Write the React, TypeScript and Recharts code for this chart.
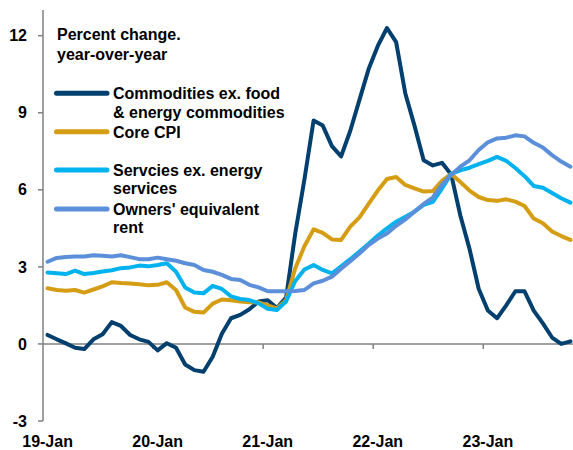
import React from 'react';
import { LineChart, Line, XAxis, YAxis, ReferenceLine, Legend } from 'recharts';

const FONT = '"Liberation Sans", Arial, Helvetica, sans-serif';

// Monthly observations, Jan 2019 – Oct 2023
const months: string[] = [];
for (let y = 2019; y <= 2023; y++) {
  for (let m = 1; m <= 12; m++) {
    if (y === 2023 && m > 10) break;
    months.push(`${y}-${String(m).padStart(2, '0')}`);
  }
}

const commodities = [
  0.35, 0.18, 0.02, -0.15, -0.2, 0.18, 0.38, 0.85, 0.7, 0.35, 0.18, 0.08,
  -0.25, 0.03, -0.15, -0.8, -1.02, -1.08, -0.5, 0.4, 1.0, 1.13, 1.35, 1.65,
  1.7, 1.4, 1.8, 4.3, 6.4, 8.7, 8.5, 7.7, 7.3, 8.3, 9.5, 10.7,
  11.6, 12.3, 11.75, 9.75, 8.5, 7.15, 6.95, 7.05, 6.6, 5.0, 3.7, 2.15,
  1.3, 1.0, 1.5, 2.05, 2.05, 1.3, 0.8, 0.25, 0.0, 0.1,
];

const coreCpi = [
  2.17, 2.1, 2.07, 2.1, 2.0, 2.12, 2.24, 2.4, 2.37, 2.35, 2.32, 2.28,
  2.3, 2.4, 2.1, 1.42, 1.25, 1.22, 1.57, 1.73, 1.7, 1.65, 1.62, 1.62,
  1.5, 1.38, 1.7, 2.95, 3.8, 4.46, 4.32, 4.07, 4.05, 4.57, 4.93, 5.45,
  5.97, 6.42, 6.5, 6.19, 6.06, 5.93, 5.95, 6.35, 6.62, 6.3, 5.97, 5.72,
  5.6, 5.57, 5.63, 5.54, 5.37, 4.88, 4.7, 4.38, 4.2, 4.05,
];

const services = [
  2.78, 2.75, 2.72, 2.85, 2.72, 2.76, 2.82, 2.87, 2.95, 2.98, 3.05, 3.02,
  3.07, 3.14, 2.81, 2.2, 2.0, 1.97, 2.26, 2.14, 1.85, 1.75, 1.71, 1.58,
  1.37, 1.32, 1.65, 2.45, 2.9, 3.07, 2.88, 2.75, 3.02, 3.3, 3.6, 3.9,
  4.22, 4.5, 4.76, 4.95, 5.15, 5.41, 5.53, 6.05, 6.62, 6.76, 6.86, 7.0,
  7.13, 7.28, 7.13, 6.85, 6.53, 6.15, 6.08, 5.88, 5.67, 5.5,
];

const oer = [
  3.2, 3.35, 3.38, 3.4, 3.4, 3.45, 3.43, 3.4, 3.45, 3.38, 3.3, 3.3,
  3.36, 3.3, 3.24, 3.14, 3.07, 2.88, 2.81, 2.69, 2.53, 2.49, 2.3, 2.2,
  2.05, 2.05, 2.05, 2.06, 2.1, 2.36, 2.46, 2.62, 2.93, 3.22, 3.52, 3.85,
  4.1, 4.3, 4.6, 4.85, 5.15, 5.45, 5.7, 6.2, 6.58, 6.9, 7.15, 7.55,
  7.85, 8.0, 8.03, 8.12, 8.08, 7.83, 7.65, 7.35, 7.1, 6.9,
];

const yearTicks = [-0.5, 11.5, 23.5, 35.5, 47.5];
const yearLabels = ['19-Jan', '20-Jan', '21-Jan', '22-Jan', '23-Jan'];
const yTicks = [-3, 0, 3, 6, 9, 12];

const titleLines = ['Percent change.', 'year-over-year'];

const series = [
  { key: 'commodities', lines: ['Commodities ex. food', '& energy commodities'], color: '#003F6E', values: commodities },
  { key: 'core', lines: ['Core CPI'], color: '#D59D14', values: coreCpi },
  { key: 'services', lines: ['Servcies ex. energy', 'services'], color: '#00B2EE', values: services },
  { key: 'oer', lines: ["Owners' equivalent", 'rent'], color: '#5B8FDA', values: oer },
];

const data = months.map((m, i) => {
  const row: Record<string, number | string> = { t: i, month: m };
  series.forEach((s) => {
    row[s.key] = s.values[i];
  });
  return row;
});

const CHART_W = 580;
const CHART_H = 450;
const MARGIN = { top: 10, right: 5, bottom: 0, left: 0 };
const Y_AXIS_W = 43;
const PLOT_W = CHART_W - MARGIN.right - MARGIN.left - Y_AXIS_W;
const HALF_CAT = PLOT_W / (yearTicks.length * 12 - 2) / 2;

const XTick = (props: any) => {
  const { x, y, index } = props;
  return (
    <text
      x={x + HALF_CAT}
      y={y + 18}
      textAnchor="middle"
      fontFamily={FONT}
      fontWeight="bold"
      fontSize={16}
      fill="#000"
    >
      {yearLabels[index]}
    </text>
  );
};

const legendRows = [93.3, 131.7, 170, 209];

const LegendContent = () => (
  <svg width={320} height={250} style={{ display: 'block' }}>
    {titleLines.map((t, i) => (
      <text
        key={t}
        x={57}
        y={40 + i * 19.5}
        fontFamily={FONT}
        fontWeight="bold"
        fontSize={16}
        fill="#000"
      >
        {t}
      </text>
    ))}
    {series.map((s, si) => (
      <g key={s.key}>
        <line
          x1={56.5}
          x2={107}
          y1={legendRows[si]}
          y2={legendRows[si]}
          stroke={s.color}
          strokeWidth={5}
          strokeLinecap="round"
        />
        {s.lines.map((ln, li) => (
          <text
            key={ln}
            x={113}
            y={legendRows[si] + 5.8 + li * 18.6}
            fontFamily={FONT}
            fontWeight="bold"
            fontSize={16}
            fill="#000"
          >
            {ln}
          </text>
        ))}
      </g>
    ))}
  </svg>
);

export default function App() {
  return (
    <div
      style={{
        position: 'absolute',
        left: 0,
        top: 0,
        width: 573,
        height: 450,
        overflow: 'hidden',
        background: '#fff',
      }}
    >
      <LineChart width={CHART_W} height={CHART_H} data={data} margin={MARGIN}>
        <XAxis
          type="number"
          dataKey="t"
          domain={[-0.5, 57.5]}
          ticks={yearTicks}
          interval={0}
          allowDataOverflow
          axisLine={false}
          tickLine={false}
          height={29}
          tick={<XTick />}
        />
        <YAxis
          type="number"
          domain={[-3, 13]}
          ticks={yTicks}
          interval={0}
          allowDataOverflow
          width={Y_AXIS_W}
          tickSize={5}
          tickMargin={11}
          axisLine={{ stroke: '#808080', strokeWidth: 1.5 }}
          tickLine={{ stroke: '#808080', strokeWidth: 1.5 }}
          tick={{ fontFamily: FONT, fontWeight: 'bold', fontSize: 16, fill: '#000' }}
        />
        <ReferenceLine y={0} stroke="#808080" strokeWidth={1.5} ifOverflow="extendDomain" />
        {yearTicks.slice(1).map((t) => (
          <ReferenceLine
            key={t}
            segment={[
              { x: t, y: 0 },
              { x: t, y: -0.2 },
            ]}
            stroke="#808080"
            strokeWidth={1.5}
          />
        ))}
        {series.map((s) => (
          <Line
            key={s.key}
            type="linear"
            dataKey={s.key}
            name={s.lines.join(' ')}
            stroke={s.color}
            strokeWidth={4}
            strokeLinejoin="round"
            strokeLinecap="round"
            dot={false}
            activeDot={false}
            isAnimationActive={false}
          />
        ))}
        <Legend
          layout="horizontal"
          verticalAlign="middle"
          align="center"
          content={<LegendContent />}
          wrapperStyle={{ position: 'absolute', left: 0, top: 0, width: 320, height: 250 }}
        />
      </LineChart>
    </div>
  );
}
